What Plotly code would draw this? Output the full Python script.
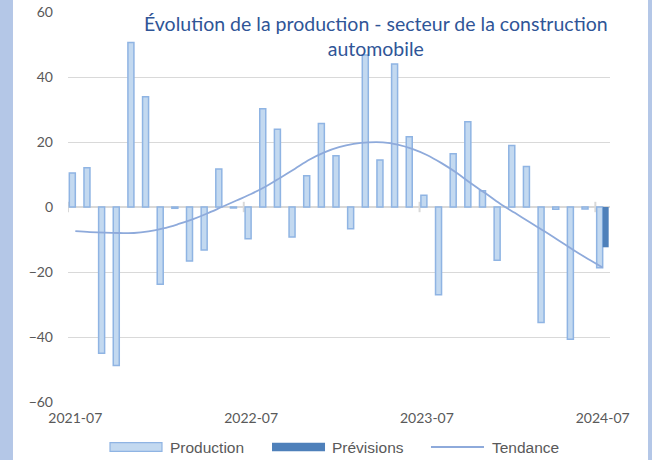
import plotly.graph_objects as go

months = ["2021-07", "2021-08", "2021-09", "2021-10", "2021-11", "2021-12",
          "2022-01", "2022-02", "2022-03", "2022-04", "2022-05", "2022-06",
          "2022-07", "2022-08", "2022-09", "2022-10", "2022-11", "2022-12",
          "2023-01", "2023-02", "2023-03", "2023-04", "2023-05", "2023-06",
          "2023-07", "2023-08", "2023-09", "2023-10", "2023-11", "2023-12",
          "2024-01", "2024-02", "2024-03", "2024-04", "2024-05", "2024-06",
          "2024-07"]

production = [10.5, 12.1, -45.0, -48.8, 50.6, 33.9, -23.8, -0.4, -16.6, -13.2,
              11.7, -0.3, -9.8, 30.2, 23.9, -9.2, 9.6, 25.7, 15.8, -6.7,
              46.8, 14.5, 44.0, 21.6, 3.6, -27.0, 16.4, 26.2, 5.0, -16.4,
              18.9, 12.5, -35.5, -0.7, -40.7, -0.6, -18.7]

previsions = [None] * 36 + [-12.4]

tendance = [-7.4, -7.7, -7.9, -8.0, -8.0, -7.5, -6.6, -5.3, -3.8, -2.0,
            0.0, 2.0, 4.0, 6.3, 9.0, 11.8, 14.6, 16.8, 18.4, 19.4,
            19.9, 19.9, 19.2, 17.9, 16.0, 13.5, 10.6, 7.3, 4.2, 1.0,
            -1.8, -4.6, -7.4, -10.3, -13.2, -16.0, -18.6]

tick_labels = ["2021-07", "2022-07", "2023-07", "2024-07"]
y_ticks = [-60, -40, -20, 0, 20, 40, 60]

title_text = "Évolution de la production - secteur de la construction<br>automobile"

C_LIGHT = "#C3D9F0"
C_LIGHT_LINE = "#8FB4E3"
C_DARK = "#4E80BA"
C_TREND = "#8EAADB"
GRID = "#D9D9D9"
TXT = "#595959"

fig = go.Figure()
fig.add_trace(go.Bar(x=months, y=production, name="Production",
                     marker=dict(color=C_LIGHT, line=dict(color=C_LIGHT_LINE, width=1.5)),
                     showlegend=False))
fig.add_trace(go.Bar(x=months, y=previsions, name="Prévisions",
                     marker=dict(color=C_DARK, line=dict(width=0)),
                     showlegend=False))
fig.add_trace(go.Scatter(x=months, y=tendance, name="Tendance", mode="lines",
                         line=dict(color=C_TREND, width=1.8, shape="spline"),
                         showlegend=False))

shapes = []
# background strips
shapes.append(dict(type="rect", xref="paper", yref="paper", x0=-0.2, x1=-0.1015,
                   y0=-0.2, y1=1.1, fillcolor="#B4C7E7", line=dict(width=0), layer="below"))
shapes.append(dict(type="rect", xref="paper", yref="paper", x0=1.0701, x1=1.2,
                   y0=-0.2, y1=1.1, fillcolor="#B4C7E7", line=dict(width=0), layer="below"))
# category tick marks at year boundaries, crossing the zero line
for lab in tick_labels:
    i = months.index(lab) - 0.5
    shapes.append(dict(type="line", xref="x", yref="y", x0=i, x1=i, y0=-1.6, y1=1.6,
                       line=dict(color=GRID, width=2), layer="below"))

# custom legend
ly = -0.1154
shapes.append(dict(type="rect", xref="paper", yref="paper", x0=0.0775, x1=0.1734,
                   y0=ly - 0.011, y1=ly + 0.011, fillcolor=C_LIGHT,
                   line=dict(color=C_LIGHT_LINE, width=1.2)))
shapes.append(dict(type="rect", xref="paper", yref="paper", x0=0.3764, x1=0.4742,
                   y0=ly - 0.011, y1=ly + 0.011, fillcolor=C_DARK, line=dict(width=0)))
shapes.append(dict(type="line", xref="paper", yref="paper", x0=0.6697, x1=0.7675,
                   y0=ly, y1=ly, line=dict(color=C_TREND, width=1.8)))

annotations = [
    dict(text=title_text, xref="paper", yref="paper", x=0.568, y=0.9385,
         xanchor="center", yanchor="middle", showarrow=False, align="center",
         font=dict(family="Lato", size=19.5, color="#2F5597")),
]
for txt, xx in [("Production", 0.1845), ("Prévisions", 0.4834), ("Tendance", 0.7786)]:
    annotations.append(dict(text=txt, xref="paper", yref="paper", x=xx, y=ly,
                            xanchor="left", yanchor="middle", showarrow=False,
                            font=dict(family="Liberation Sans", size=15.5, color=TXT)))

fig.update_layout(
    width=652, height=460,
    margin=dict(l=68, r=42, t=12, b=58, autoexpand=False),
    paper_bgcolor="white", plot_bgcolor="white",
    barmode="group", bargap=0.18, bargroupgap=0,
    showlegend=False,
    shapes=shapes, annotations=annotations,
    font=dict(family="Lato", size=14, color=TXT),
)
fig.update_xaxes(type="category", categoryorder="array", categoryarray=months,
                 range=[-0.5, len(months) - 0.5], automargin=False,
                 tickvals=tick_labels, ticktext=tick_labels, ticks="",
                 showgrid=False, zeroline=False, showline=False,
                 tickfont=dict(family="Lato", size=14, color=TXT),
                 ticklabelstandoff=6)
fig.update_yaxes(range=[-60, 60], tickvals=y_ticks, ticks="", automargin=False,
                 showgrid=True, gridcolor=GRID, gridwidth=1.3,
                 zeroline=True, zerolinecolor=GRID, zerolinewidth=2,
                 showline=False,
                 tickfont=dict(family="Lato", size=14, color=TXT),
                 ticklabelstandoff=14)

fig.write_html("out.html", config={"displayModeBar": False},
               post_script="document.body.style.margin='0';document.body.style.overflow='hidden';")
